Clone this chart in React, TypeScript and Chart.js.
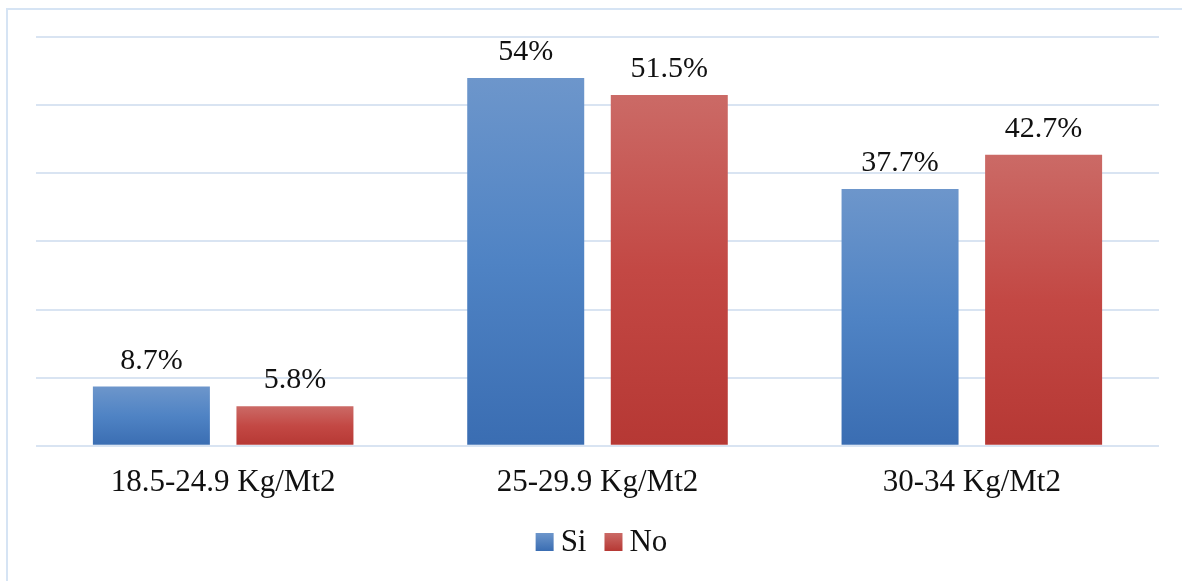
import React, { useEffect, useRef } from "react";
import { Chart, registerables } from "chart.js";

Chart.register(...registerables);

const categories = ["18.5-24.9 Kg/Mt2", "25-29.9 Kg/Mt2", "30-34 Kg/Mt2"];
const siValues = [8.7, 54, 37.7];
const noValues = [5.8, 51.5, 42.7];
const siLabels = ["8.7%", "54%", "37.7%"];
const noLabels = ["5.8%", "51.5%", "42.7%"];
const seriesNames = ["Si", "No"];

const FONT = "'Liberation Serif', 'Times New Roman', serif";
const FS_DATA = 30;
const FS_AXIS = 31;

function makeGradient(ctx: any, top: [string, string, string]) {
  const chart = ctx.chart;
  const y = chart.scales && chart.scales.y;
  if (!y || ctx.type !== "data") return top[1];
  const v = ctx.raw as number;
  const y0 = y.getPixelForValue(0);
  const y1 = y.getPixelForValue(v);
  if (!isFinite(y0) || !isFinite(y1) || y0 === y1) return top[1];
  const g = chart.ctx.createLinearGradient(0, y1, 0, y0);
  g.addColorStop(0, top[0]);
  g.addColorStop(0.5, top[1]);
  g.addColorStop(1, top[2]);
  return g;
}

const blue: [string, string, string] = ["#6d96cb", "#4f83c4", "#3a6db2"];
const red: [string, string, string] = ["#cb6a66", "#c34844", "#b63834"];

const labelPlugin = {
  id: "valueLabels",
  afterDatasetsDraw(chart: any) {
    const ctx = chart.ctx;
    ctx.save();
    ctx.font = `${FS_DATA}px ${FONT}`;
    ctx.fillStyle = "#111";
    ctx.textAlign = "center";
    ctx.textBaseline = "alphabetic";
    const labelSets = [siLabels, noLabels];
    chart.data.datasets.forEach((_: any, di: number) => {
      const meta = chart.getDatasetMeta(di);
      meta.data.forEach((bar: any, i: number) => {
        ctx.fillText(labelSets[di][i], bar.x, bar.y - 18);
      });
    });
    ctx.restore();
  },
};

const legendPlugin = {
  id: "customLegend",
  afterDraw(chart: any) {
    const ctx = chart.ctx;
    ctx.save();
    ctx.font = `${FS_AXIS}px ${FONT}`;
    ctx.textBaseline = "middle";
    ctx.textAlign = "left";
    const box = 18;
    const gapText = 7;
    const gapItem = 18;
    const fills = [
      ["#6d96cb", "#3a6db2"],
      ["#cb6a66", "#b63834"],
    ];
    const widths = seriesNames.map((n) => box + gapText + ctx.measureText(n).width);
    const total = widths.reduce((a, b) => a + b, 0) + gapItem * (seriesNames.length - 1);
    const cx = (chart.chartArea.left + chart.chartArea.right) / 2 + 4;
    let x = cx - total / 2;
    const cy = 542;
    seriesNames.forEach((n, i) => {
      const g = ctx.createLinearGradient(0, cy - box / 2, 0, cy + box / 2);
      g.addColorStop(0, fills[i][0]);
      g.addColorStop(1, fills[i][1]);
      ctx.fillStyle = g;
      ctx.fillRect(x, cy - box / 2, box, box);
      ctx.fillStyle = "#111";
      ctx.fillText(n, x + box + gapText, cy + 1);
      x += widths[i] + gapItem;
    });
    ctx.restore();
  },
};

export default function App() {
  const ref = useRef<HTMLCanvasElement>(null);
  useEffect(() => {
    if (!ref.current) return;
    const chart = new Chart(ref.current, {
      type: "bar",
      data: {
        labels: categories,
        datasets: [
          {
            label: seriesNames[0],
            data: siValues,
            backgroundColor: (c: any) => makeGradient(c, blue),
            categoryPercentage: 0.767,
            barPercentage: 0.815,
          },
          {
            label: seriesNames[1],
            data: noValues,
            backgroundColor: (c: any) => makeGradient(c, red),
            categoryPercentage: 0.767,
            barPercentage: 0.815,
          },
        ],
      },
      options: {
        animation: false,
        responsive: false,
        maintainAspectRatio: false,
        layout: { padding: { left: 36, right: 23, top: 37, bottom: 62 } },
        scales: {
          x: {
            grid: { display: false, drawTicks: false },
            border: { display: false },
            ticks: { color: "#111", font: { family: FONT, size: FS_AXIS }, padding: 18 },
          },
          y: {
            min: 0,
            max: 60,
            ticks: { display: false, stepSize: 10 },
            grid: { color: "#d9e4f2", lineWidth: 2, drawTicks: false },
            border: { display: false },
          },
        },
        plugins: {
          legend: { display: false },
          tooltip: { enabled: false },
        },
      },
      plugins: [labelPlugin, legendPlugin],
    });
    return () => chart.destroy();
  }, []);
  return (
    <div style={{ position: "fixed", left: 0, top: 0, width: 1182, height: 581, overflow: "hidden", background: "#fff" }}>
      <div
        style={{
          position: "absolute",
          left: 6,
          top: 8,
          width: 1200,
          height: 600,
          border: "2px solid #d6e4f4",
          boxSizing: "border-box",
        }}
      />
      <canvas ref={ref} width={1182} height={581} style={{ position: "absolute", left: 0, top: 0 }} />
    </div>
  );
}
